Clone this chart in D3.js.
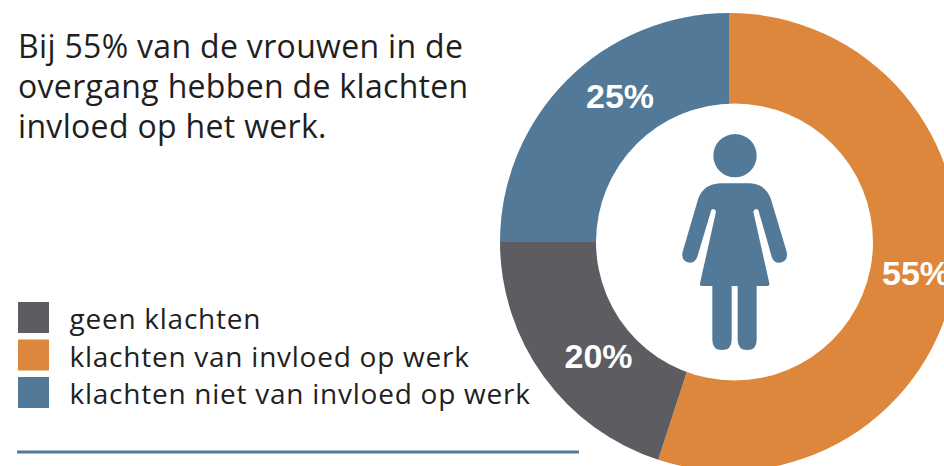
<!DOCTYPE html>
<html><head><meta charset="utf-8">
<script src="https://cdn.jsdelivr.net/npm/d3@7"></script>
<style>html,body{margin:0;padding:0;background:#fff}svg{display:block}</style></head>
<body><svg id="c" width="944" height="466"></svg>
<script>
const categories = ["klachten van invloed op werk","geen klachten","klachten niet van invloed op werk"];
const values = [55,20,25];
const legendOrder = ["geen klachten","klachten van invloed op werk","klachten niet van invloed op werk"];
const colors = ["#DC873B","#5D5C61","#527A98"];
const titleLines = ["Bij 55% van de vrouwen in de","overgang hebben de klachten","invloed op het werk."];
const font = "'Open Sans', Roboto, sans-serif";
const svg = d3.select("#c");
const color = d3.scaleOrdinal(categories, colors);
const cx=729, cy=242, R=229;
const pie = d3.pie().sort(null).value(d=>d.v);
const arc = d3.arc().innerRadius(0).outerRadius(R);
const data = pie(categories.map((c,i)=>({c,v:values[i]})));
const g = svg.append("g").attr("transform",`translate(${cx},${cy})`);
g.selectAll("path").data(data).join("path").attr("d",arc).attr("fill",d=>color(d.data.c));
svg.append("circle").attr("cx",734.5).attr("cy",242).attr("r",138.5).attr("fill","#fff");
const labelPos = {55:[187,30.5],20:[-130.5,114],25:[-109,-146]};
g.selectAll("text").data(data).join("text")
 .attr("x",d=>labelPos[d.data.v][0]).attr("y",d=>labelPos[d.data.v][1])
 .attr("text-anchor","middle").attr("dy","0.36em")
 .attr("fill","#fff").attr("font-family","'Liberation Sans', Arial, sans-serif").attr("font-weight",700).attr("font-size",34)
 .text(d=>d.data.v+"%");
svg.append("g").selectAll("text").data(titleLines).join("text")
 .attr("x",18).attr("y",(d,i)=>58+i*40)
 .attr("font-family",font).attr("font-size",32).attr("letter-spacing",0.32).attr("fill","#1f1f1f").text(d=>d);
const leg = svg.append("g").selectAll("g").data(legendOrder).join("g")
 .attr("transform",(d,i)=>`translate(18,${302+i*37.5})`);
leg.append("rect").attr("width",31).attr("height",31).attr("fill",d=>color(d));
leg.append("text").attr("x",51.5).attr("y",27).attr("font-family",font).attr("font-size",28).attr("letter-spacing",0.75).attr("fill","#1f1f1f").text(d=>d);
svg.append("rect").attr("x",17).attr("y",450.5).attr("width",562).attr("height",3).attr("fill","#527A98");
const fig = svg.append("g").attr("fill","#527A98").attr("transform","translate(640,120) scale(0.33333)");
fig.append("circle").attr("cx",285).attr("cy",107).attr("r",65);
fig.append("path").attr("d","M240 190 H330 Q375 192 392 235 L440 395 Q446 425 418 428 Q400 428 395 410 L355 270 Q345 262 340 275 L388 490 Q390 498 380 498 H350 V660 Q350 690 322 690 Q293 690 293 660 V498 H275 V660 Q275 690 246 690 Q217 690 217 660 V498 H188 Q178 498 180 490 L228 275 Q224 262 214 270 L172 410 Q166 428 148 428 Q122 425 128 395 L175 235 Q192 192 240 190 Z");
</script></body></html>
